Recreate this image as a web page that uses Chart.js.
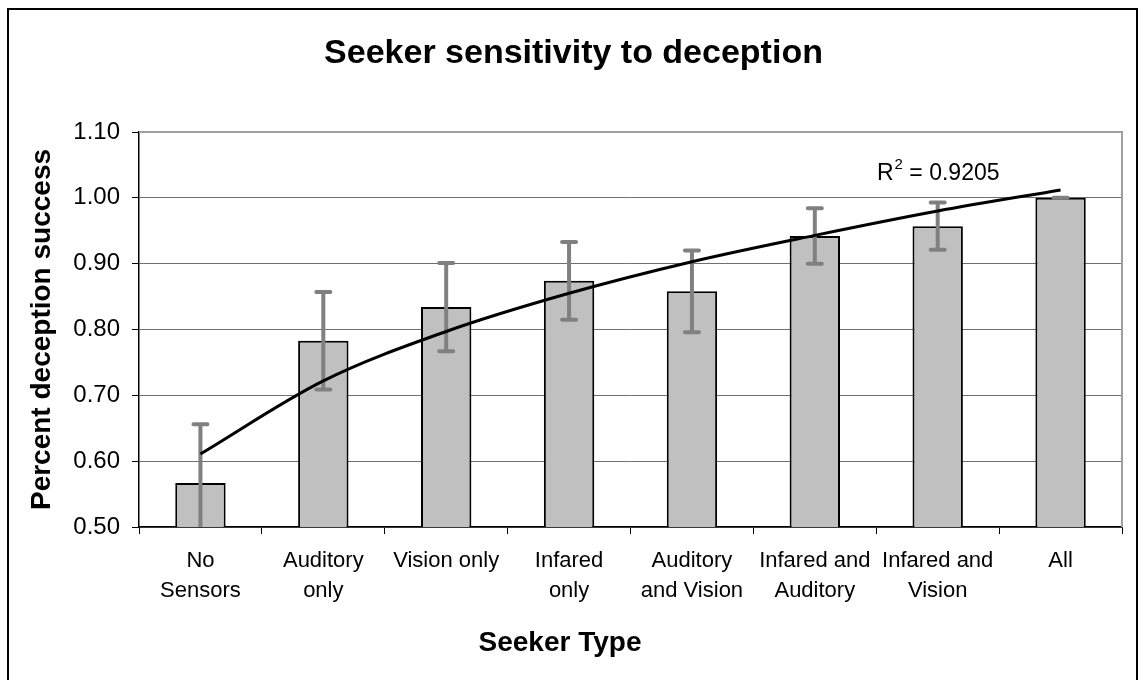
<!DOCTYPE html>
<html>
<head>
<meta charset="utf-8">
<script src="https://cdn.jsdelivr.net/npm/chart.js@4"></script>
<style>
  html, body { margin: 0; padding: 0; background: #fff; }
  #wrap { width: 1139px; height: 680px; }
</style>
</head>
<body>
<div id="wrap"><canvas id="chart" width="1139" height="680"></canvas></div>
<script>
// --- data ---
const seekerTypes = [
  ["No", "Sensors"], ["Auditory", "only"], ["Vision only"], ["Infared", "only"],
  ["Auditory", "and Vision"], ["Infared and", "Auditory"], ["Infared and", "Vision"], ["All"]
];
const deceptionSuccess = [0.567, 0.783, 0.834, 0.874, 0.858, 0.942, 0.957, 1.000];
const errorMargin      = [0.089, 0.074, 0.067, 0.059, 0.062, 0.042, 0.036, 0.000];
const trendValues      = [0.611, 0.722, 0.797, 0.855, 0.903, 0.943, 0.980, 1.012];
const rSquaredText = "0.9205";

const FONT = "'Liberation Sans', Arial, sans-serif";

// white background + outer frame
const frame = {
  id: "frame",
  beforeDraw(chart) {
    const ctx = chart.ctx;
    ctx.save();
    ctx.fillStyle = "#fff";
    ctx.fillRect(0, 0, chart.width, chart.height);
    ctx.strokeStyle = "#000";
    ctx.lineWidth = 2;
    ctx.strokeRect(8, 9, 1129, 700);
    ctx.restore();
  },
  beforeDatasetsDraw(chart) {
    // grey plot-area border (top and right)
    const a = chart.chartArea, ctx = chart.ctx;
    ctx.save();
    ctx.strokeStyle = "#a0a0a0";
    ctx.lineWidth = 2;
    ctx.beginPath();
    ctx.moveTo(a.left, a.top);
    ctx.lineTo(a.right, a.top);
    ctx.lineTo(a.right, a.bottom);
    ctx.stroke();
    ctx.restore();
  }
};

// error bars, drawn right after the bars so the trend line sits on top
const errorBars = {
  id: "errorBars",
  afterDatasetDraw(chart, args) {
    if (args.index !== 0) return;
    const ctx = chart.ctx, y = chart.scales.y, a = chart.chartArea;
    const meta = chart.getDatasetMeta(0);
    ctx.save();
    ctx.beginPath();
    ctx.rect(a.left, a.top, a.right - a.left, a.bottom - a.top);
    ctx.clip();
    ctx.strokeStyle = "#808080";
    ctx.lineWidth = 4;
    ctx.lineCap = "round";
    meta.data.forEach((bar, i) => {
      const v = deceptionSuccess[i], e = errorMargin[i];
      const yt = y.getPixelForValue(v + e), yb = y.getPixelForValue(v - e);
      ctx.beginPath();
      ctx.moveTo(bar.x, yt); ctx.lineTo(bar.x, yb);
      ctx.moveTo(bar.x - 7, yt); ctx.lineTo(bar.x + 7, yt);
      ctx.moveTo(bar.x - 7, yb); ctx.lineTo(bar.x + 7, yb);
      ctx.stroke();
    });
    ctx.restore();
  }
};

// x axis title and R² label
const texts = {
  id: "texts",
  afterDraw(chart) {
    const ctx = chart.ctx;
    ctx.save();
    ctx.fillStyle = "#000";
    ctx.textBaseline = "middle";
    ctx.textAlign = "center";
    ctx.font = "bold 28px " + FONT;
    ctx.fillText("Seeker Type", 560, 643);

    ctx.textAlign = "left";
    ctx.textBaseline = "alphabetic";
    let x = 877;
    ctx.font = "23px " + FONT;
    ctx.fillText("R", x, 180);
    x += ctx.measureText("R").width + 1;
    ctx.font = "15px " + FONT;
    ctx.fillText("2", x, 169);
    x += ctx.measureText("2").width;
    ctx.font = "23px " + FONT;
    ctx.fillText(" = " + rSquaredText, x, 180);
    ctx.restore();
  }
};

new Chart(document.getElementById("chart"), {
  data: {
    labels: seekerTypes,
    datasets: [
      {
        type: "bar",
        data: deceptionSuccess,
        backgroundColor: "#c0c0c0",
        borderColor: "#000",
        borderWidth: 2,
        categoryPercentage: 1,
        barPercentage: 0.41,
        order: 1
      },
      {
        type: "line",
        data: trendValues,
        borderColor: "#000",
        borderWidth: 3,
        pointRadius: 0,
        cubicInterpolationMode: "monotone",
        fill: false,
        order: 0
      }
    ]
  },
  options: {
    responsive: false,
    animation: false,
    layout: { padding: { left: 25, right: 17, top: 0, bottom: 0 } },
    plugins: {
      legend: { display: false },
      tooltip: { enabled: false },
      title: {
        display: true,
        text: "Seeker sensitivity to deception",
        color: "#000",
        font: { family: FONT, size: 34, weight: "bold" },
        padding: { top: 33, bottom: 58.2 }
      }
    },
    scales: {
      x: {
        offset: true,
        grid: { offset: true, drawOnChartArea: false, tickLength: 7, tickColor: "#000" },
        border: { color: "#000", width: 1.5 },
        ticks: {
          color: "#000",
          font: { family: FONT, size: 22, lineHeight: 1.364 },
          padding: 12,
          maxRotation: 0,
          autoSkip: false
        },
        afterFit(scale) { scale.height = 153; }
      },
      y: {
        min: 0.5,
        max: 1.1,
        grid: { color: "#707070", tickLength: 7, tickColor: "#000" },
        border: { color: "#000", width: 1.5 },
        ticks: {
          stepSize: 0.1,
          color: "#000",
          padding: 12,
          font: { family: FONT, size: 24 },
          callback: v => Number(v).toFixed(2)
        },
        title: {
          display: true,
          text: "Percent deception success",
          color: "#000",
          font: { family: FONT, size: 28, weight: "bold" },
          padding: { top: 0, bottom: 0 }
        },
        afterFit(scale) { scale.width = 114; }
      }
    }
  },
  plugins: [frame, errorBars, texts]
});
</script>
</body>
</html>
